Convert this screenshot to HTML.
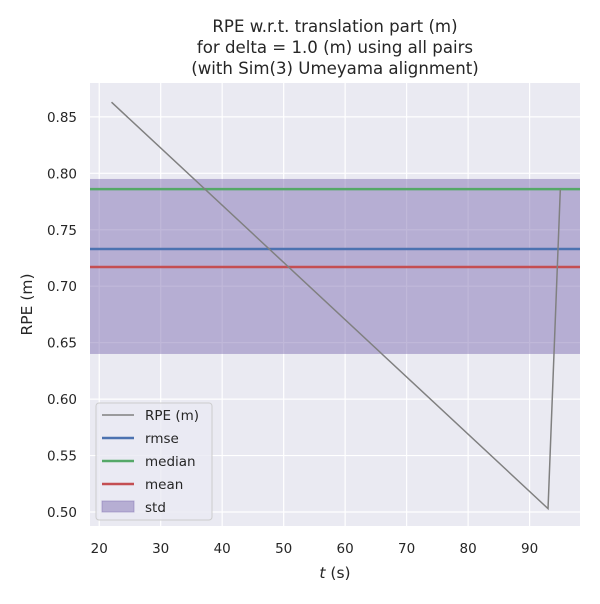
<!DOCTYPE html>
<html><head><meta charset="utf-8"><style>
body{margin:0;background:#fff;font-family:"DejaVu Sans","Liberation Sans",sans-serif;}
svg text{font-family:"DejaVu Sans","Liberation Sans",sans-serif;}
</style></head><body>
<svg id="chart" width="600" height="600" xmlns="http://www.w3.org/2000/svg">
<rect width="600" height="600" fill="#fff"/>
<g font-size="16.6" fill="#262626" text-anchor="middle">
<text x="335" y="32">RPE w.r.t. translation part (m)</text>
<text x="335" y="53">for delta = 1.0 (m) using all pairs</text>
<text x="335" y="74">(with Sim(3) Umeyama alignment)</text>
</g>
<rect x="90" y="83" width="490" height="443" fill="#eaeaf2"/>
<g id="grid"></g>
<g id="marks"></g>
<g id="axes"></g>
<text x="335" y="578" font-size="15.5" fill="#262626" text-anchor="middle"><tspan font-style="italic">t</tspan> (s)</text>
<text transform="translate(32,304.5) rotate(-90)" font-size="15.5" fill="#262626" text-anchor="middle">RPE (m)</text>
<g>
<rect x="96" y="403" width="116" height="117" rx="3" fill="#eaeaf2" fill-opacity="0.8" stroke="#ccc"/>
<line x1="102" y1="415" x2="134" y2="415" stroke="#808080" stroke-width="1.5"/>
<text x="145" y="420" font-size="13.5" fill="#262626">RPE (m)</text>
<line x1="102" y1="438" x2="134" y2="438" stroke="#4c72b0" stroke-width="2.5"/>
<text x="145" y="443" font-size="13.5" fill="#262626">rmse</text>
<line x1="102" y1="461" x2="134" y2="461" stroke="#55a868" stroke-width="2.5"/>
<text x="145" y="466" font-size="13.5" fill="#262626">median</text>
<line x1="102" y1="484" x2="134" y2="484" stroke="#c44e52" stroke-width="2.5"/>
<text x="145" y="489" font-size="13.5" fill="#262626">mean</text>
<rect x="102" y="501" width="32" height="11" fill="#8172b3" fill-opacity="0.5" stroke="#8172b3" stroke-opacity="0.5"/>
<text x="145" y="512" font-size="13.5" fill="#262626">std</text>
</g>
</svg>
<script>
const tData = [22, 93, 95];
const rpeData = [0.863, 0.503, 0.786];
const rmse = 0.733;
const median = 0.786;
const mean = 0.717;
const stdLow = 0.640;
const stdHigh = 0.795;
const xTicks = [20, 30, 40, 50, 60, 70, 80, 90];
const yTicks = [0.50, 0.55, 0.60, 0.65, 0.70, 0.75, 0.80, 0.85];

const NS = "http://www.w3.org/2000/svg";
const X0 = 90, X1 = 580, Y0 = 83, Y1 = 526;
const xMin = 18.5, xMax = 98.2, yMin = 0.4876, yMax = 0.880;
const xs = v => X0 + (v - xMin) / (xMax - xMin) * (X1 - X0);
const ys = v => Y1 - (v - yMin) / (yMax - yMin) * (Y1 - Y0);
function mk(tag, attrs, parent) {
  const e = document.createElementNS(NS, tag);
  for (const k in attrs) e.setAttribute(k, attrs[k]);
  document.getElementById(parent).appendChild(e);
  return e;
}
xTicks.forEach(t => {
  const l = mk('line', {x1: xs(t), x2: xs(t), y1: Y0, y2: Y1, stroke: '#fff', 'stroke-width': 1.2}, 'grid');
  
  
  const tx = mk('text', {x: xs(t), y: 553, 'font-size': 13.5, fill: '#262626', 'text-anchor': 'middle'}, 'axes');
  tx.textContent = t;
  
  
});
yTicks.forEach(t => {
  const l = mk('line', {x1: X0, x2: X1, y1: ys(t), y2: ys(t), stroke: '#fff', 'stroke-width': 1.2}, 'grid');
  
  
  const tx = mk('text', {x: 77, y: ys(t) + 5, 'font-size': 13.5, fill: '#262626', 'text-anchor': 'end'}, 'axes');
  tx.textContent = t.toFixed(2);
  
  
});
const band = mk('rect', {x: X0, width: X1 - X0, y: ys(stdHigh), height: ys(stdLow) - ys(stdHigh), fill: '#8172b3', 'fill-opacity': 0.5}, 'marks');


[[rmse, '#4c72b0', 'rmse-line'], [median, '#55a868', 'median-line'], [mean, '#c44e52', 'mean-line']].forEach(([v, c, n]) => {
  const l = mk('line', {x1: X0, x2: X1, y1: ys(v), y2: ys(v), stroke: c, 'stroke-width': 2.5}, 'marks');
  
  
});
const pl = mk('polyline', {points: tData.map((t, i) => xs(t) + ',' + ys(rpeData[i])).join(' '), fill: 'none', stroke: '#808080', 'stroke-width': 1.5}, 'marks');


</script>
</body></html>
